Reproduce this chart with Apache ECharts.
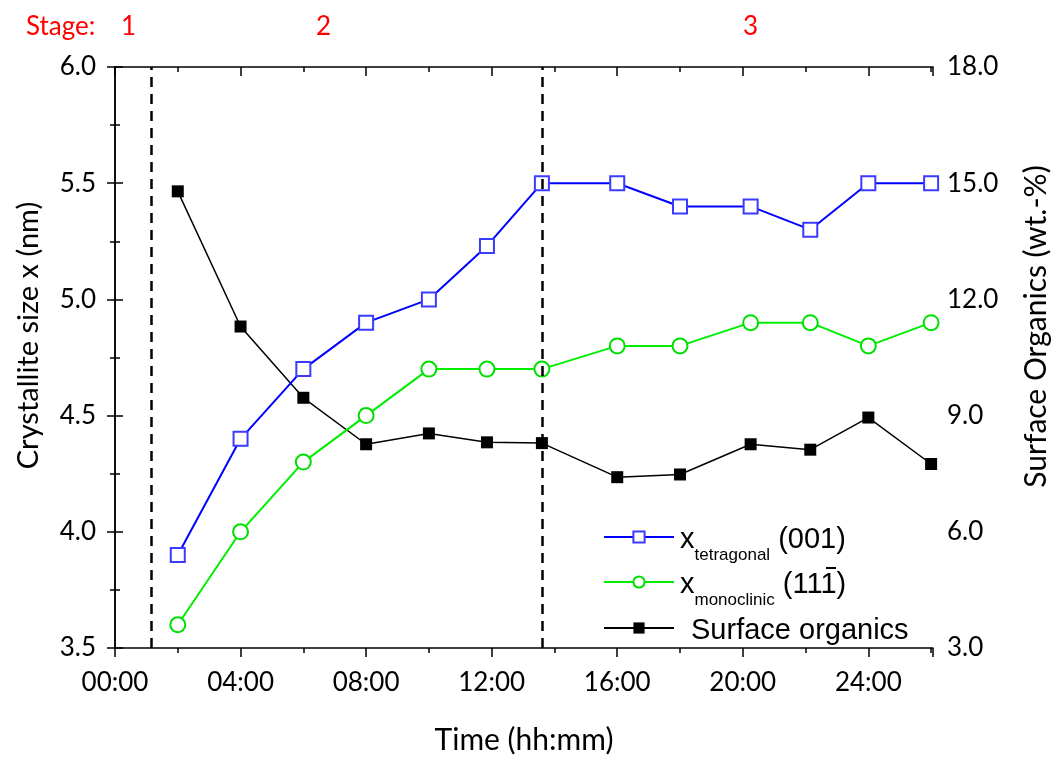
<!DOCTYPE html>
<html>
<head>
<meta charset="utf-8">
<script src="https://cdn.jsdelivr.net/npm/echarts@6/dist/echarts.min.js"></script>
<style>html,body{margin:0;padding:0;background:#fff}#c{width:1059px;height:760px}</style>
</head>
<body>
<div id="c"></div>
<script>
// ---- data ----
const timeHours   = [2, 4, 6, 8, 10, 11.85, 13.6, 16, 18, 20.25, 22.15, 24, 26];
const tetragonal  = [3.9, 4.4, 4.7, 4.9, 5.0, 5.23, 5.5, 5.5, 5.4, 5.4, 5.3, 5.5, 5.5];
const monoclinic  = [3.6, 4.0, 4.3, 4.5, 4.7, 4.7, 4.7, 4.8, 4.8, 4.9, 4.9, 4.8, 4.9];
const organics    = [14.79, 11.30, 9.46, 8.26, 8.54, 8.31, 8.29, 7.41, 7.48, 8.26, 8.12, 8.95, 7.75];
const stageBounds = [1.14, 13.6];
const stageLabels = ['1', '2', '3'];
const seriesNames = ['tetragonal', 'monoclinic', 'organics'];

const FONT = 'Lato';
function pair(xs, ys) { return xs.map((x, i) => [x, ys[i]]); }
function fmtTime(v) {
  if (v % 4 !== 0 || v > 24) return '';
  return (v < 10 ? '0' : '') + v + ':00';
}

const chart = echarts.init(document.getElementById('c'), null, {renderer: 'canvas'});
const axisLine = {show: true, lineStyle: {color: '#000', width: 1.5}};
const LEG = 'Liberation Sans';
const legendText = {
  fontFamily: LEG, color: '#000', padding: [0, 0, 0, 1],
  rich: {
    x: {fontSize: 29, fontFamily: LEG, color: '#000', lineHeight: 34, verticalAlign: 'bottom'},
    s: {fontSize: 29, fontFamily: LEG, color: '#000', lineHeight: 34, verticalAlign: 'bottom', padding: [0, 0, 0, 11]},
    sub: {fontSize: 17, fontFamily: LEG, color: '#000', lineHeight: 34, verticalAlign: 'bottom', padding: [0, 0, -10, 0]}
  }
};
function legendLabel(name) {
  if (name === 'tetragonal') return '{x|x}{sub|tetragonal}{x| (001)}';
  if (name === 'monoclinic') return '{x|x}{sub|monoclinic}{x| (111)}';
  return '{s|Surface organics}';
}
const legendTops = [520, 565, 611];
const option = {
  backgroundColor: '#fff',
  animation: false,
  grid: {left: 115, right: 121, top: 67, bottom: 108, containLabel: false},
  legend: seriesNames.map((n, i) => ({
    orient: 'vertical', left: 598, top: legendTops[i], itemWidth: 70, itemHeight: 14,
    data: [n], formatter: legendLabel, textStyle: legendText, selectedMode: false
  })),
  xAxis: [{
    type: 'value', min: 0, max: 26.06, interval: 2, position: 'bottom',
    name: 'Time (hh:mm)', nameLocation: 'middle', nameGap: 77,
    nameTextStyle: {fontFamily: FONT, fontSize: 30, color: '#000'},
    axisLine: axisLine,
    axisTick: {show: true, inside: false, length: 5, lineStyle: {color: '#000', width: 1.5}},
    axisLabel: {show: true, margin: 22, fontFamily: FONT, fontSize: 26, color: '#000', formatter: fmtTime},
    splitLine: {show: false}
  }, {
    type: 'value', min: 0, max: 26.06, interval: 4, position: 'bottom',
    axisLine: {show: false},
    axisTick: {show: true, inside: false, length: 9, lineStyle: {color: '#000', width: 1.5}},
    axisLabel: {show: false}, splitLine: {show: false}
  }, {
    type: 'value', min: 0, max: 26.06, interval: 2, position: 'top',
    axisLine: axisLine,
    axisTick: {show: true, inside: true, length: 5, lineStyle: {color: '#000', width: 1.5}},
    axisLabel: {show: false}, splitLine: {show: false}
  }, {
    type: 'value', min: 0, max: 26.06, interval: 4, position: 'top',
    axisLine: {show: false},
    axisTick: {show: true, inside: true, length: 9, lineStyle: {color: '#000', width: 1.5}},
    axisLabel: {show: false}, splitLine: {show: false}
  }],
  yAxis: [{
    type: 'value', min: 3.5, max: 6.0, interval: 0.5, position: 'left',
    name: 'Crystallite size x (nm)', nameLocation: 'middle', nameGap: 72,
    nameTextStyle: {fontFamily: FONT, fontSize: 29, color: '#000', padding: [0, 0, 0, 44]},
    axisLine: axisLine,
    axisTick: {show: true, inside: false, length: 8, lineStyle: {color: '#000', width: 1.5}},
    minorTick: {show: true, splitNumber: 2, length: 5, lineStyle: {color: '#000', width: 1.5}},
    axisLabel: {margin: 19, fontFamily: FONT, fontSize: 26, color: '#000', formatter: v => v.toFixed(1)},
    splitLine: {show: false}
  }, {
    type: 'value', min: 3, max: 18, interval: 3, position: 'right',
    name: 'Surface Organics (wt.-%)', nameLocation: 'middle', nameGap: 88,
    nameTextStyle: {fontFamily: FONT, fontSize: 30, color: '#000', padding: [0, 0, 0, 62]},
    axisLine: axisLine,
    axisTick: {show: true, inside: false, length: 8, lineStyle: {color: '#000', width: 1.5}},
    minorTick: {show: true, splitNumber: 2, length: 5, lineStyle: {color: '#000', width: 1.5}},
    axisLabel: {margin: 14, fontFamily: FONT, fontSize: 26, color: '#000', formatter: v => v.toFixed(1)},
    splitLine: {show: false}
  }],
  graphic: [
    {type: 'text', left: 26, top: 14, style: {text: 'Stage:', fontFamily: FONT, fontSize: 26, fill: '#ff0000'}},
    {type: 'text', left: 121, top: 14, style: {text: stageLabels[0], fontFamily: FONT, fontSize: 26, fill: '#ff0000'}},
    {type: 'text', left: 316, top: 14, style: {text: stageLabels[1], fontFamily: FONT, fontSize: 26, fill: '#ff0000'}},
    {type: 'text', left: 743, top: 14, style: {text: stageLabels[2], fontFamily: FONT, fontSize: 26, fill: '#ff0000'}},
    // overbar of the Miller index (1 1 1-bar) in the legend
    {type: 'line', shape: {x1: 826, y1: 568, x2: 836, y2: 568}, style: {stroke: '#000', lineWidth: 2}}
  ],
  series: [{
    name: 'tetragonal', type: 'line', xAxisIndex: 0, yAxisIndex: 0, z: 4,
    data: pair(timeHours, tetragonal),
    symbol: 'rect', symbolSize: 14, showAllSymbol: true,
    lineStyle: {color: '#0000ff', width: 2},
    itemStyle: {color: '#ffffff', borderColor: '#3b3bff', borderWidth: 2}
  }, {
    name: 'monoclinic', type: 'line', xAxisIndex: 0, yAxisIndex: 0, z: 3,
    data: pair(timeHours, monoclinic),
    symbol: 'circle', symbolSize: 15, showAllSymbol: true,
    lineStyle: {color: '#00ee00', width: 2},
    itemStyle: {color: '#ffffff', borderColor: '#00e000', borderWidth: 2}
  }, {
    name: 'organics', type: 'line', xAxisIndex: 0, yAxisIndex: 1, z: 2,
    data: pair(timeHours, organics),
    symbol: 'rect', symbolSize: 12, showAllSymbol: true,
    lineStyle: {color: '#000000', width: 1.5},
    itemStyle: {color: '#000000', borderColor: '#000', borderWidth: 0},
    markLine: {
      silent: true, symbol: ['none', 'none'], label: {show: false},
      lineStyle: {color: '#000', width: 2.5, type: [10, 7]},
      data: stageBounds.map(v => ({xAxis: v}))
    }
  }]
};
chart.setOption(option);
</script>
</body>
</html>
